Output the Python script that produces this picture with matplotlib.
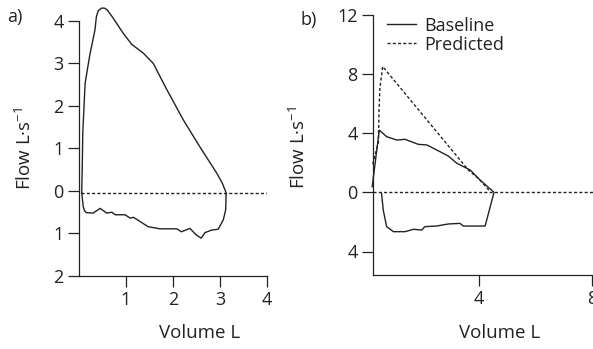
import numpy as np
import matplotlib
matplotlib.use('Agg')
import matplotlib.pyplot as plt

plt.rcParams['font.family'] = ['Open Sans', 'DejaVu Sans']
plt.rcParams['mathtext.fontset'] = 'custom'
plt.rcParams['mathtext.rm'] = 'Open Sans'
plt.rcParams['mathtext.it'] = 'Open Sans'

INK = '#222222'

# panel a: flow-volume loop
a_exp_vol = [0.057, 0.07, 0.08, 0.13, 0.23, 0.34, 0.37, 0.41, 0.48, 0.54, 0.6,
             0.73, 0.94, 1.12, 1.37, 1.58, 1.87, 2.22, 2.57, 2.93, 3.05, 3.13]
a_exp_flow = [-0.05, 0.6, 1.36, 2.53, 3.2, 3.79, 4.1, 4.24, 4.3, 4.3, 4.26,
              4.06, 3.71, 3.45, 3.24, 3.0, 2.38, 1.67, 1.04, 0.42, 0.18, -0.04]
a_insp_vol = [0.057, 0.06, 0.09, 0.12, 0.16, 0.3, 0.45, 0.59, 0.7, 0.77, 0.98,
              1.09, 1.16, 1.47, 1.72, 2.08, 2.18, 2.36, 2.5, 2.6, 2.68, 2.82,
              2.96, 3.07, 3.12, 3.13]
a_insp_flow = [-0.05, -0.05, -0.37, -0.47, -0.51, -0.52, -0.41, -0.52, -0.5,
               -0.56, -0.56, -0.64, -0.62, -0.84, -0.89, -0.89, -0.96, -0.88,
               -1.04, -1.11, -0.98, -0.92, -0.9, -0.68, -0.45, -0.07]

# panel b: baseline vs predicted
b_exp_vol = [0.23, 0.48, 0.74, 1.1, 1.39, 1.86, 2.16, 2.63, 2.92, 3.22, 3.69,
             4.04, 4.51]
b_exp_flow = [0.38, 4.2, 3.76, 3.53, 3.58, 3.24, 3.2, 2.74, 2.45, 1.96, 1.51,
              0.83, 0.04]
b_insp_vol = [0.56, 0.62, 0.74, 0.98, 1.39, 1.69, 1.98, 2.09, 2.5, 2.92, 3.33,
              3.45, 4.22, 4.53]
b_insp_flow = [-0.07, -1.2, -2.32, -2.66, -2.66, -2.5, -2.55, -2.32, -2.28,
               -2.14, -2.1, -2.28, -2.28, -0.03]
b_pred_vol = [0.25, 0.45, 0.47, 0.5, 0.6, 3.63, 4.0, 4.4]
b_pred_flow = [1.9, 3.4, 5.5, 7.0, 8.5, 1.5, 0.9, 0.05]

W, H = 593, 349
fig = plt.figure(figsize=(W / 100, H / 100), dpi=100)


def px_axes(l, r, top, bot):
    return fig.add_axes([l / W, 1 - bot / H, (r - l) / W, (bot - top) / H])


def style(ax):
    for s in ['top', 'right']:
        ax.spines[s].set_visible(False)
    for s in ['left', 'bottom']:
        ax.spines[s].set_color(INK)
        ax.spines[s].set_linewidth(0.9)
    ax.tick_params(direction='out', length=8, width=0.9, color=INK,
                   labelsize=13, labelcolor=INK, pad=3)


dots = (0, (2.2, 1.6))

# ---- a ----
ax1 = px_axes(79, 267, 6, 276)
ax1.set_xlim(0, 4)
ax1.set_ylim(-2, 4.35)
ax1.plot(a_exp_vol, a_exp_flow, color=INK, lw=1.0)
ax1.plot(a_insp_vol, a_insp_flow, color=INK, lw=1.0)
ax1.axhline(-0.05, xmin=0.01, color=INK, lw=1.0, ls=dots)
style(ax1)
ax1.spines['left'].set_bounds(-2, 4)
ax1.set_xticks([1, 2, 3, 4])
ax1.set_yticks([-2, -1, 0, 1, 2, 3, 4])
ax1.set_yticklabels(['2', '1', '0', '1', '2', '3', '4'])

# ---- b ----
x0_px, unit_x = 365.7, 28.3
y0_px, unit_y = 192.3, 14.8
ax2 = px_axes(373, 593, 14.7, 275)
ax2.set_xlim((373 - x0_px) / unit_x, (593 - x0_px) / unit_x)
ax2.set_ylim(-(275 - y0_px) / unit_y, (y0_px - 14.7) / unit_y)
ax2.plot(b_exp_vol, b_exp_flow, color=INK, lw=1.0, label='Baseline', clip_on=False)
ax2.plot(b_insp_vol, b_insp_flow, color=INK, lw=1.0)
ax2.plot(b_pred_vol, b_pred_flow, color=INK, lw=1.0, ls=dots, label='Predicted',
         clip_on=False)
ax2.axhline(0, color=INK, lw=1.0, ls=dots)
style(ax2)
ax2.set_xticks([4, 8])
ax2.set_yticks([-4, 0, 4, 8, 12])
ax2.set_yticklabels(['4', '0', '4', '8', '12'])
ax2.legend(loc='upper left', bbox_to_anchor=(0.03, 1.02), frameon=False,
           fontsize=13, handlelength=1.6, handletextpad=0.5, labelspacing=0.05,
           borderaxespad=0, labelcolor=INK)

# labels
def ftext(x, y, s, **kw):
    fig.text(x / W, 1 - y / H, s, color=INK, **kw)

ftext(15, 17, 'a)', fontsize=13, ha='center', va='center')
ftext(309, 20, 'b)', fontsize=13, ha='center', va='center')
ftext(200, 333, 'Volume L', fontsize=13.5, ha='center', va='center')
ftext(500, 333, 'Volume L', fontsize=13.5, ha='center', va='center')
ftext(25, 148, 'Flow L·s$^{-1}$', fontsize=13.5, ha='center', va='center', rotation=90)
ftext(299, 147, 'Flow L·s$^{-1}$', fontsize=13.5, ha='center', va='center', rotation=90)

fig.savefig('out.png', dpi=100)
